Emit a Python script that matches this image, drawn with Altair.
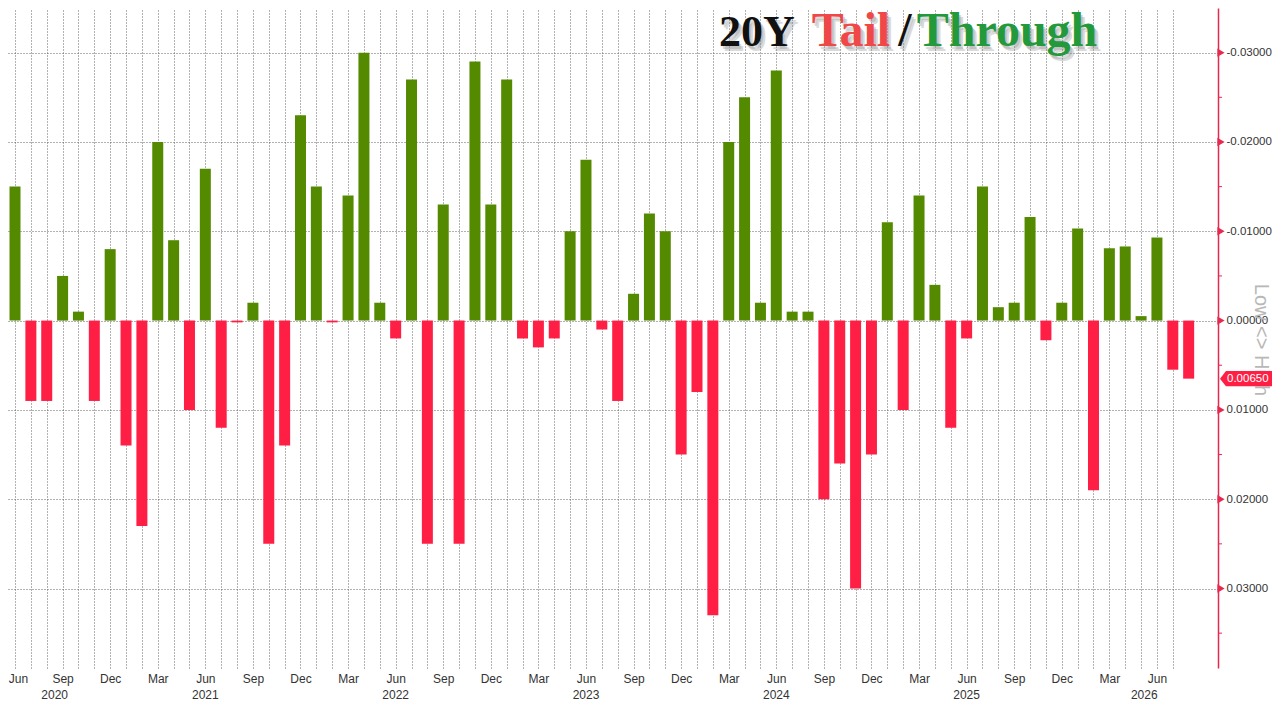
import altair as alt
import pandas as pd

# ---------------- data ----------------
month_names = ["Jan", "Feb", "Mar", "Apr", "May", "Jun", "Jul", "Aug", "Sep", "Oct", "Nov", "Dec"]
# 20Y auction tail(+)/through(-) by month, May 2020 .. Aug 2026
v2020 = [0.007, -0.015, 0.009, 0.009, -0.005, -0.001, 0.009, -0.008]
v2021 = [0.014, 0.023, -0.020, -0.009, 0.010, -0.017, 0.012, 0.0002, -0.002, 0.025, 0.014, -0.023]
v2022 = [-0.015, 0.0002, -0.014, -0.030, -0.002, 0.002, -0.027, 0.025, -0.013, 0.025, -0.029, -0.013]
v2023 = [-0.027, 0.002, 0.003, 0.002, -0.010, -0.018, 0.001, 0.009, -0.003, -0.012, -0.010, 0.015]
v2024 = [0.008, 0.033, -0.020, -0.025, -0.002, -0.028, -0.001, -0.001, 0.020, 0.016, 0.030, 0.015]
v2025 = [-0.011, 0.010, -0.014, -0.004, 0.012, 0.002, -0.015, -0.0015, -0.002, -0.0116, 0.0022, -0.002]
v2026 = [-0.0103, 0.019, -0.0081, -0.0083, -0.0005, -0.0093, 0.0055, 0.0065]

values = v2020 + v2021 + v2022 + v2023 + v2024 + v2025 + v2026
first_month = 4  # May (0-based), 2020
year_labels = ["2020", "2021", "2022", "2023", "2024", "2025", "2026"]
year_label_month_idx = [3.5, 13, 25, 37, 49, 61, 72.2]
y_ticks = [-0.03, -0.02, -0.01, 0.0, 0.01, 0.02, 0.03]
y_minor = [-0.025, -0.015, -0.005, 0.005, 0.015, 0.025, 0.035]

df = pd.DataFrame({"idx": list(range(len(values))), "val": values})
last_df = pd.DataFrame({"val": [values[-1]], "txt": [f"{values[-1]:.5f}"]})
year_df = pd.DataFrame({"pos": year_label_month_idx, "year": year_labels})
tick_df = pd.DataFrame({"v": y_ticks})
minor_df = pd.DataFrame({"v": y_minor})

# ---------------- style ----------------
W, H = 1210, 660
GREEN = "#548A00"
RED = "#FF1F45"
AXRED = "#E8294F"
GRID = "#555555"
FONT = "Liberation Sans"

x_scale = alt.Scale(domain=[0.558, 76.85], nice=False, zero=False, padding=0)
y_scale = alt.Scale(domain=[-0.035, 0.0389], nice=False, zero=False, reverse=True, padding=0)

label_expr = ("((datum.value + %d) %% 3 == 2) ? %s[(datum.value + %d) %% 12] : ''"
              % (first_month, str(month_names), first_month))

x_axis = alt.Axis(values=list(range(0, 75)), labelExpr=label_expr, grid=True,
                  gridDash=[1, 2], gridColor=GRID, gridWidth=1, gridOpacity=0.9,
                  ticks=False, domain=False,
                  labelOverlap=False, labelFlush=False, labelPadding=5, labelFont=FONT,
                  labelFontSize=12, labelColor="#333333", title=None,
                  labelOffset={"condition": {"test": "datum.value == 1", "value": 3}, "value": 0})

y_axis = alt.Axis(orient="right", values=y_ticks,
                  labelExpr="replace(format(datum.value, '.5f'), '\u2212', '-')",
                  grid=True, gridDash=[1, 2], gridColor=GRID, gridWidth=1, gridOpacity=0.9,
                  ticks=False, domain=True, domainColor=AXRED, domainWidth=1.5,
                  labelPadding=8, labelFont=FONT, labelFontSize=11.5, labelColor="#333333",
                  title=None)

X = lambda f: alt.X(f, scale=x_scale, axis=x_axis)
Y = lambda f: alt.Y(f, scale=y_scale, axis=y_axis)

bars = alt.Chart(df).mark_bar(width=11, clip=True).encode(
    x=X("idx:Q"),
    y=Y("val:Q"),
    y2=alt.datum(0),
    color=alt.condition("datum.val < 0", alt.value(GREEN), alt.value(RED)),
)

minor_ticks = alt.Chart(minor_df).mark_rule(color=AXRED, strokeWidth=1).encode(
    y=Y("v:Q"),
    x=alt.value(W), x2=alt.value(W + 4),
)

major_ticks = alt.Chart(tick_df).mark_point(shape="triangle-right", filled=True, size=70,
                                            color=AXRED, opacity=1).encode(
    y=Y("v:Q"),
    x=alt.value(W + 3),
)

years = alt.Chart(year_df).mark_text(font=FONT, fontSize=12, color="#333333",
                                     baseline="middle", align="center").encode(
    x=X("pos:Q"),
    y=alt.value(H + 27),
    text="year:N",
)

side_title = alt.Chart(pd.DataFrame({"t": ["Low <> High"]})).mark_text(
    font="Liberation Sans", fontSize=20, color="#B8B8B8", angle=90,
    align="center", baseline="middle").encode(
    x=alt.value(W + 43), y=alt.value(332), text="t:N")

box_path = "M -1 0 L -0.78 -0.28 L 1 -0.28 L 1 0.28 L -0.78 0.28 Z"
last_box = alt.Chart(last_df).mark_point(shape=box_path, filled=True, size=54 * 54,
                                         color=RED, opacity=1, strokeWidth=0).encode(
    y=Y("val:Q"),
    x=alt.value(W + 2 + 27),
)
last_txt = alt.Chart(last_df).mark_text(font=FONT, fontSize=11.5, color="white",
                                        align="left", baseline="middle").encode(
    y=Y("val:Q"),
    x=alt.value(W + 9),
    text="txt:N",
)

# title pieces
title_parts = ["20Y", "Tail", "/", "Through"]
title_colors = ["#111111", "#F04848", "#111111", "#22993A"]
title_sizes = [44, 48, 48, 48]
title_x = [749, 843, 897, 999]
title_layers = []
for dx, dy, col, op in [(4, 5, "#888888", 0.3), (2, 3, "#888888", 0.3)]:
    for part, xc, fs in zip(title_parts, title_x, title_sizes):
        title_layers.append(
            alt.Chart(pd.DataFrame({"t": [part]})).mark_text(
                font="Liberation Serif", fontWeight="bold", fontSize=fs, color=col,
                opacity=op, align="center", baseline="alphabetic").encode(
                x=alt.value(xc + dx), y=alt.value(38 + dy), text="t:N"))
for part, col, xc, fs in zip(title_parts, title_colors, title_x, title_sizes):
    title_layers.append(
        alt.Chart(pd.DataFrame({"t": [part]})).mark_text(
            font="Liberation Serif", fontWeight="bold", fontSize=fs, color=col,
            align="center", baseline="alphabetic").encode(
            x=alt.value(xc), y=alt.value(38), text="t:N"))

chart = alt.layer(
    bars, minor_ticks, major_ticks, side_title, years, last_box, last_txt, *title_layers
).properties(
    width=W, height=H, background="white",
    autosize=alt.AutoSizeParams(type="none"),
    padding={"left": 0, "top": 0, "right": 54, "bottom": 34},
).configure_view(stroke=None)

chart.save("out.html", embed_options={"renderer": "svg", "actions": False})
